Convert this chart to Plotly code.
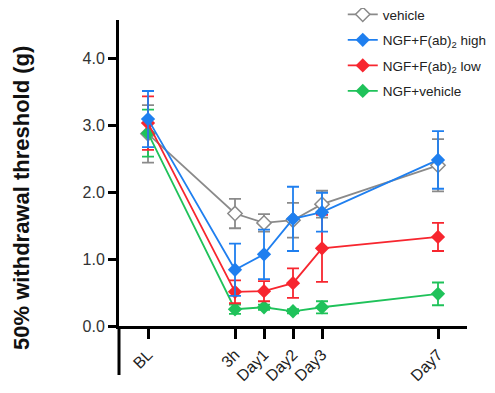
import plotly.graph_objects as go

# ---- data ----
x_labels = ["BL", "3h", "Day1", "Day2", "Day3", "Day7"]
x_days = [-3, 0, 1, 2, 3, 7]

vehicle = [2.87, 1.68, 1.54, 1.58, 1.82, 2.40]
vehicle_err = [0.43, 0.22, 0.13, 0.26, 0.20, 0.39]

high = [3.09, 0.84, 1.07, 1.60, 1.70, 2.48]
high_err = [0.42, 0.39, 0.37, 0.48, 0.29, 0.43]

low = [3.03, 0.51, 0.52, 0.64, 1.16, 1.33]
low_err = [0.40, 0.17, 0.15, 0.22, 0.50, 0.21]

ngf = [2.88, 0.25, 0.28, 0.22, 0.28, 0.48]
ngf_err = [0.35, 0.07, 0.04, 0.03, 0.09, 0.17]

names = ["vehicle", "NGF+F(ab)<sub>2</sub> high", "NGF+F(ab)<sub>2</sub> low", "NGF+vehicle"]
colors = ["#8a8a8a", "#1f7fef", "#f7262f", "#1fc25a"]

series = [vehicle, high, low, ngf]
errors = [vehicle_err, high_err, low_err, ngf_err]

fig = go.Figure()
draw_order = [0, 3, 2, 1]
for i in draw_order:
    hollow = (i == 0)
    fig.add_trace(go.Scatter(
        x=x_days, y=series[i], name=names[i],
        mode="lines+markers",
        line=dict(color=colors[i], width=1.8),
        marker=dict(symbol="diamond", size=11,
                    color="white" if hollow else colors[i],
                    line=dict(color=colors[i], width=1.5 if hollow else 0)),
        error_y=dict(type="data", array=errors[i], visible=True,
                     color=colors[i], thickness=1.8, width=6),
        legendrank=i + 1,
        legendgroup=str(i),
    ))

W, H = 487, 385          # page body has an 8px margin
L, R, T, B = 111, 28, 12, 67
PW, PH = W - L - R, H - T - B

fig.update_layout(
    width=W, height=H,
    margin=dict(l=L, r=R, t=T, b=B, autoexpand=False),
    paper_bgcolor="white", plot_bgcolor="white",
    font=dict(family="Liberation Sans, Arial, sans-serif", color="#222"),
    legend=dict(x=0.643, y=1 + 21 / PH, xanchor="left", yanchor="top",
                font=dict(size=13.5, color="#222"),
                tracegroupgap=5, itemwidth=30,
                bgcolor="rgba(0,0,0,0)"),
    showlegend=True,
)

fig.update_xaxes(
    range=[-4, 8], tickvals=x_days, ticktext=x_labels,
    showline=True, linecolor="black", linewidth=3,
    ticks="outside", ticklen=10, tickwidth=3, tickcolor="black",
    tickangle=-45, tickfont=dict(size=16, color="#222"),
    showgrid=False, zeroline=False, automargin=False,
)
fig.update_yaxes(
    range=[0, 4.57], tickvals=[0, 1, 2, 3, 4], tickformat=".1f",
    showline=True, linecolor="black", linewidth=3,
    ticks="outside", ticklen=8, tickwidth=3, tickcolor="black",
    tickfont=dict(size=16, color="#333"),
    showgrid=False, zeroline=False, automargin=False,
)

# y-axis title as a rotated annotation (placed like the reference)
fig.add_annotation(
    text="<b>50% withdrawal threshold (g)</b>",
    xref="paper", yref="paper",
    x=(14 - L) / PW, y=(H - B - 190) / PH,
    textangle=-90, showarrow=False,
    font=dict(size=22, color="#111"),
    xanchor="center", yanchor="middle",
)

# extend the y-axis spine below the x axis
fig.add_shape(type="line", xref="paper", yref="paper",
              x0=0, x1=0, y0=0, y1=-49 / PH,
              line=dict(color="black", width=3))

fig.write_html("out.html")
